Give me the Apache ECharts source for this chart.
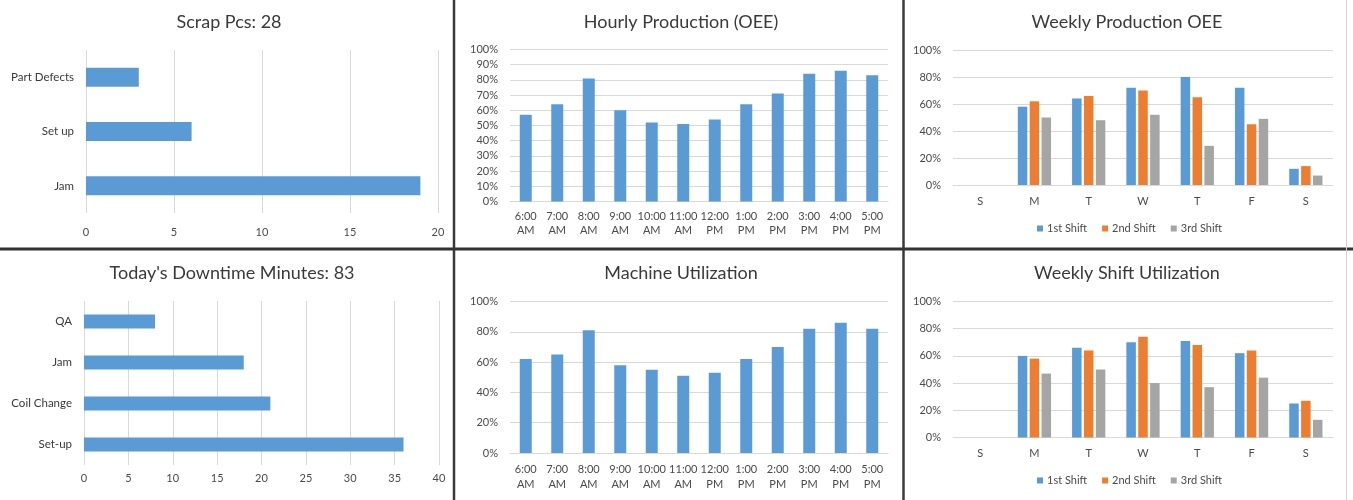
<!DOCTYPE html>
<html><head><meta charset="utf-8">
<script src="https://cdn.jsdelivr.net/npm/echarts@6/dist/echarts.min.js"></script>
<style>html,body{margin:0;padding:0;background:#fff}#c{width:1353px;height:500px}</style>
</head><body><div id="c"></div>
<script>
// ---- data ----
const scrapTitle = 'Scrap Pcs: 28';
const scrapCategories = ['Part Defects', 'Set up', 'Jam'];
const scrapValues = [3, 6, 19];
const scrapAxis = { min: 0, max: 20, interval: 5 };

const downtimeTitle = "Today's Downtime Minutes: 83";
const downtimeCategories = ['QA', 'Jam', 'Coil Change', 'Set-up'];
const downtimeValues = [8, 18, 21, 36];
const downtimeAxis = { min: 0, max: 40, interval: 5 };

const hourCategories = ['6:00 AM', '7:00 AM', '8:00 AM', '9:00 AM', '10:00 AM', '11:00 AM',
  '12:00 PM', '1:00 PM', '2:00 PM', '3:00 PM', '4:00 PM', '5:00 PM'];
const hourlyOEETitle = 'Hourly Production (OEE)';
const hourlyOEEValues = [57, 64, 81, 60, 52, 51, 54, 64, 71, 84, 86, 83];
const hourlyOEEAxis = { min: 0, max: 100, interval: 10 };

const machineUtilTitle = 'Machine Utilization';
const machineUtilValues = [62, 65, 81, 58, 55, 51, 53, 62, 70, 82, 86, 82];
const machineUtilAxis = { min: 0, max: 100, interval: 20 };

const dayCategories = ['S', 'M', 'T', 'W', 'T', 'F', 'S'];
const shiftNames = ['1st Shift', '2nd Shift', '3rd Shift'];

const weeklyOEETitle = 'Weekly Production OEE';
const weeklyOEEShift1 = [null, 58, 64, 72, 80, 72, 12];
const weeklyOEEShift2 = [null, 62, 66, 70, 65, 45, 14];
const weeklyOEEShift3 = [null, 50, 48, 52, 29, 49, 7];

const weeklyUtilTitle = 'Weekly Shift Utilization';
const weeklyUtilShift1 = [null, 60, 66, 70, 71, 62, 25];
const weeklyUtilShift2 = [null, 58, 64, 74, 68, 64, 27];
const weeklyUtilShift3 = [null, 47, 50, 40, 37, 44, 13];
const weeklyAxis = { min: 0, max: 100, interval: 20 };

// ---- styles ----
const FONT = 'Lato, "Open Sans", sans-serif';
const BLUE = '#5B9BD5', ORANGE = '#ED7D31', GRAY = '#A5A5A5';
const GRID_COLOR = '#D9D9D9';
const LABEL_COLOR = '#4a4a4a';
const TITLE_COLOR = '#3a3a3a';
const shiftColors = [BLUE, ORANGE, GRAY];

function title(text, x, y) {
  return { text, left: x, top: y, textAlign: 'center', padding: 0,
    textStyle: { fontFamily: FONT, fontSize: 18, fontWeight: 'normal', color: TITLE_COLOR } };
}
function valueAxisX(gi, ax, margin) {
  return { type: 'value', gridIndex: gi, min: ax.min, max: ax.max, interval: ax.interval,
    axisLine: { show: false }, axisTick: { show: false },
    splitLine: { lineStyle: { color: GRID_COLOR, width: 1 } },
    axisLabel: { fontFamily: FONT, fontSize: 11, color: LABEL_COLOR, margin } };
}
function catAxisY(gi, cats) {
  return { type: 'category', gridIndex: gi, data: cats, inverse: true,
    axisLine: { show: false }, axisTick: { show: false }, splitLine: { show: false },
    axisLabel: { fontFamily: FONT, fontSize: 11.5, color: TITLE_COLOR, margin: 12 } };
}
function pctAxisY(gi, ax) {
  return { type: 'value', gridIndex: gi, min: ax.min, max: ax.max, interval: ax.interval,
    axisLine: { show: false }, axisTick: { show: false },
    splitLine: { lineStyle: { color: GRID_COLOR, width: 1 } },
    axisLabel: { fontFamily: FONT, fontSize: 11, color: LABEL_COLOR, margin: 12, formatter: '{value}%' } };
}
function catAxisX(gi, cats, margin, lh, twoLine) {
  return { type: 'category', gridIndex: gi, data: cats,
    axisLine: { show: true, lineStyle: { color: GRID_COLOR, width: 1 } },
    axisTick: { show: false }, splitLine: { show: false },
    axisLabel: { fontFamily: FONT, fontSize: 11, color: LABEL_COLOR, margin, interval: 0,
      lineHeight: lh,
      formatter: twoLine ? (v) => v.replace(' ', '\n') : undefined } };
}
function legend(left, top) {
  return { left, top, padding: 0, itemWidth: 6, itemHeight: 6, itemGap: 15,
    icon: 'rect', data: shiftNames,
    textStyle: { fontFamily: FONT, fontSize: 11, color: LABEL_COLOR, padding: [0, 0, 0, -1] } };
}
function shiftSeries(name, data, color, xi, yi) {
  return { type: 'bar', name, data, xAxisIndex: xi, yAxisIndex: yi, barWidth: 9.5, barGap: '25%',
    itemStyle: { color }, silent: true };
}

const option = {
  animation: false,
  backgroundColor: '#fff',
  title: [
    title(scrapTitle, 229, 13),
    title(hourlyOEETitle, 681, 13),
    title(weeklyOEETitle, 1127, 13),
    title(downtimeTitle, 232, 264.5),
    title(machineUtilTitle, 681, 264.5),
    title(weeklyUtilTitle, 1127, 264.5)
  ],
  legend: [legend(1037, 223), legend(1037, 475)],
  grid: [
    { left: 86, top: 50, width: 352, height: 163 },
    { left: 510, top: 49.5, width: 378, height: 152 },
    { left: 953, top: 50, width: 380, height: 135 },
    { left: 84, top: 301, width: 355, height: 164 },
    { left: 510, top: 301.5, width: 378, height: 151.5 },
    { left: 953, top: 301.5, width: 380, height: 136 }
  ],
  xAxis: [
    valueAxisX(0, scrapAxis, 14),
    catAxisX(1, hourCategories, 8, 14, true),
    catAxisX(2, dayCategories, 10, 12, false),
    valueAxisX(3, downtimeAxis, 8),
    catAxisX(4, hourCategories, 9, 15, true),
    catAxisX(5, dayCategories, 10, 12, false)
  ],
  yAxis: [
    catAxisY(0, scrapCategories),
    pctAxisY(1, hourlyOEEAxis),
    pctAxisY(2, weeklyAxis),
    catAxisY(3, downtimeCategories),
    pctAxisY(4, machineUtilAxis),
    pctAxisY(5, weeklyAxis)
  ],
  series: [
    { type: 'bar', data: scrapValues, xAxisIndex: 0, yAxisIndex: 0, barWidth: 19, itemStyle: { color: BLUE } },
    { type: 'bar', data: hourlyOEEValues, xAxisIndex: 1, yAxisIndex: 1, barWidth: 12, itemStyle: { color: BLUE } },
    shiftSeries(shiftNames[0], weeklyOEEShift1, shiftColors[0], 2, 2),
    shiftSeries(shiftNames[1], weeklyOEEShift2, shiftColors[1], 2, 2),
    shiftSeries(shiftNames[2], weeklyOEEShift3, shiftColors[2], 2, 2),
    { type: 'bar', data: downtimeValues, xAxisIndex: 3, yAxisIndex: 3, barWidth: 14, itemStyle: { color: BLUE } },
    { type: 'bar', data: machineUtilValues, xAxisIndex: 4, yAxisIndex: 4, barWidth: 12, itemStyle: { color: BLUE } },
    shiftSeries(shiftNames[0], weeklyUtilShift1, shiftColors[0], 5, 5),
    shiftSeries(shiftNames[1], weeklyUtilShift2, shiftColors[1], 5, 5),
    shiftSeries(shiftNames[2], weeklyUtilShift3, shiftColors[2], 5, 5)
  ],
  graphic: [
    { type: 'line', shape: { x1: 454, y1: 0, x2: 454, y2: 500 }, style: { stroke: '#3a3a3a', lineWidth: 2.5 }, silent: true },
    { type: 'line', shape: { x1: 903.5, y1: 0, x2: 903.5, y2: 500 }, style: { stroke: '#3a3a3a', lineWidth: 2.5 }, silent: true },
    { type: 'line', shape: { x1: 0, y1: 249, x2: 1353, y2: 249 }, style: { stroke: '#333333', lineWidth: 3 }, silent: true },
    { type: 'line', shape: { x1: 1346.5, y1: 0, x2: 1346.5, y2: 500 }, style: { stroke: '#d4d4d4', lineWidth: 1 }, silent: true }
  ]
};

const chart = echarts.init(document.getElementById('c'), null, { renderer: 'canvas' });
chart.setOption(option);
</script>
</body></html>
